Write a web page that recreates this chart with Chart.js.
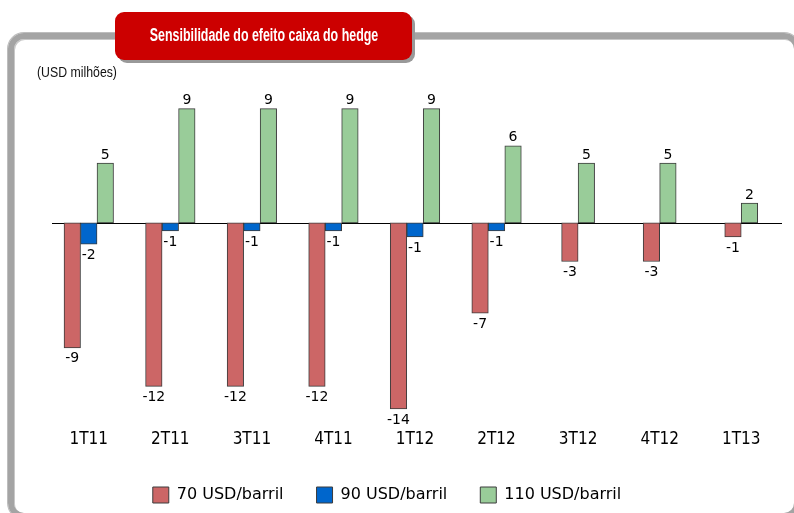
<!DOCTYPE html>
<html>
<head>
<meta charset="utf-8">
<script src="https://cdn.jsdelivr.net/npm/chart.js@4.4.1/dist/chart.umd.min.js"></script>
<style>
  html, body { margin:0; padding:0; background:#fff; }
  #wrap { position:relative; width:794px; height:513px; overflow:hidden; background:#fff; }
  #frame { position:absolute; left:8px; top:33px; width:792px; height:486px; box-sizing:border-box;
           border:6px solid #a4a4a4; border-radius:16px;
           box-shadow: inset 1px 1px 0 #c8c8c8, 0 0 0 1px #bdbdbd; }
  #title { position:absolute; left:115px; top:12px; width:297px; height:48px; background:#cc0000;
           border-radius:9px; box-shadow:3px 3px 0 #999; color:#fff;
           font-family:"Liberation Sans",Arial,sans-serif; font-weight:bold;
           font-size:18px; line-height:46px; white-space:nowrap; }
  #title span { position:absolute; left:50%; top:0; transform:translateX(-50%) scaleX(0.69); transform-origin:center; }
  #unit { position:absolute; left:37px; top:63px; font-family:"Liberation Sans",Arial,sans-serif;
          font-size:15px; color:#111; transform:scaleX(0.82); transform-origin:left center; white-space:nowrap; }
  canvas { position:absolute; left:0; top:0; }
</style>
</head>
<body>
<div id="wrap">
  <div id="frame"></div>
  <canvas id="c" width="794" height="513"></canvas>
  <div id="title"><span>Sensibilidade do efeito caixa do hedge</span></div>
  <div id="unit">(USD milhões)</div>
</div>
<script>
const categories = ["1T11","2T11","3T11","4T11","1T12","2T12","3T12","4T12","1T13"];
const seriesNames = ["70 USD/barril","90 USD/barril","110 USD/barril"];
const usd70  = [-9.4, -12.3, -12.3, -12.3, -14.0, -6.8, -2.9, -2.9, -1.05];
const usd90  = [-1.6, -0.6, -0.6, -0.6, -1.05, -0.6, null, null, null];
const usd110 = [4.5, 8.6, 8.6, 8.6, 8.6, 5.8, 4.5, 4.5, 1.5];

const fillColors = ["#cc6666", "#0066cc", "#99cc99"];
const edge = "#3c3c3c";

const zeroLine = {
  id: "zeroLine",
  beforeDatasetsDraw(chart) {
    const y = Math.round(chart.scales.y.getPixelForValue(0)) + 0.5;
    const ctx = chart.ctx;
    ctx.save();
    ctx.strokeStyle = "#000";
    ctx.lineWidth = 1;
    ctx.beginPath();
    ctx.moveTo(chart.chartArea.left + 4, y);
    ctx.lineTo(chart.chartArea.right, y);
    ctx.stroke();
    ctx.restore();
  }
};

const valueLabels = {
  id: "valueLabels",
  afterDatasetsDraw(chart) {
    const ctx = chart.ctx;
    ctx.save();
    ctx.font = "14px 'DejaVu Sans'";
    ctx.fillStyle = "#000";
    ctx.textAlign = "center";
    ctx.textBaseline = "middle";
    chart.data.datasets.forEach((ds, di) => {
      const meta = chart.getDatasetMeta(di);
      meta.data.forEach((el, i) => {
        const v = ds.data[i];
        if (v === null || v === undefined) return;
        const txt = String(Math.round(v));
        const y = v >= 0 ? el.y - 8 : el.y + 11;
        ctx.fillText(txt, el.x, y);
      });
    });
    ctx.restore();
  }
};

const mk = (label, data, k) => ({
  label, data,
  backgroundColor: fillColors[k],
  borderColor: edge,
  borderWidth: 1,
  borderSkipped: false,
  barThickness: 16.5,
  skipNull: true
});

new Chart(document.getElementById("c"), {
  type: "bar",
  data: {
    labels: categories,
    datasets: [mk(seriesNames[0], usd70, 0), mk(seriesNames[1], usd90, 1), mk(seriesNames[2], usd110, 2)]
  },
  options: {
    responsive: false,
    animation: false,
    devicePixelRatio: 1,
    layout: { padding: { left: -8, right: 12, top: 90, bottom: 0 } },
    plugins: {
      legend: {
        position: "bottom",
        labels: {
          boxWidth: 16, boxHeight: 16, padding: 33, color: "#000",
          font: { family: "'DejaVu Sans'", size: 16 }
        }
      },
      tooltip: { enabled: false },
      title: { display: false }
    },
    scales: {
      x: {
        grid: { display: false, drawTicks: false },
        border: { display: false },
        ticks: { color: "#000", padding: 4, font: { family: "'DejaVu Sans Condensed','DejaVu Sans'", size: 17 } }
      },
      y: {
        min: -15.25, max: 10,
        grid: { display: false, drawTicks: false },
        border: { display: false },
        ticks: { display: false },
        afterFit(scale) { scale.width = 56; }
      }
    }
  },
  plugins: [zeroLine, valueLabels]
});
</script>
</body>
</html>
